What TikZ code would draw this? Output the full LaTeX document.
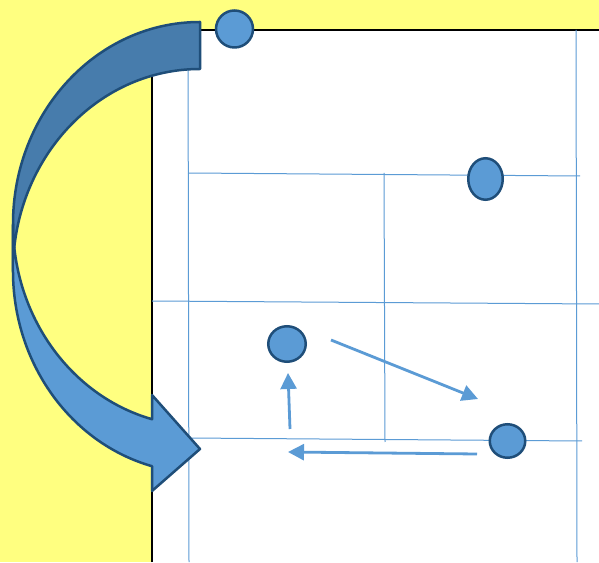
\documentclass[tikz,border=0pt]{standalone}
\usetikzlibrary{arrows.meta,shapes.geometric}
\begin{document}
\begin{tikzpicture}[x=1pt,y=1pt,
        punto/.style={ellipse,draw=borde,fill=azul,line width=2.5pt,inner sep=0pt},
        rejilla/.style={azul,line width=1pt},
        flecha/.style={azul,line width=2.8pt,-{Triangle[length=16pt,width=16pt]}},
        curva/.style={draw=borde,line width=2.5pt,line join=round}]
        %colores
        \definecolor{amarillo}{RGB}{255,255,128}
        \definecolor{azul}{RGB}{91,155,213}
        \definecolor{azulosc}{RGB}{71,124,172}
        \definecolor{borde}{RGB}{31,78,121}

        \useasboundingbox (0,0) rectangle (599,562);
        % Fondo y hoja
        \fill[amarillo] (0,0) rectangle (599,562);
        \fill[white] (152,0) rectangle (599,532);
        \draw[line width=1.2pt] (152,0) -- (152,532) -- (599,532);

        % Rejilla
        \draw[rejilla] (188,532) -- (189,0);
        \draw[rejilla] (576,532) -- (577,0);
        \draw[rejilla] (188,389) -- (580,386);
        \draw[rejilla] (384,389) -- (385,120);
        \draw[rejilla] (152,261) -- (599,258);
        \draw[rejilla] (188,124) -- (582,121);

        % Flecha curva, parte de atras y parte de delante
        \fill[azulosc,curva] (200,540) arc[start angle=90,end angle=180,x radius=187,y radius=202]
            -- (13,291) arc[start angle=180,end angle=90,x radius=187,y radius=202] -- cycle;
        \fill[azul,curva] (13,338) arc[start angle=180,end angle=255.13,x radius=187,y radius=202]
            -- (152,167) -- (200,113) -- (152,71) -- (152,95.8)
            arc[start angle=255.13,end angle=180,x radius=187,y radius=202] -- cycle;

        % Puntos
        \node[punto,minimum width=37pt,minimum height=37pt] (arriba) at (234.5,533) {};
        \node[punto,minimum width=34.5pt,minimum height=41.5pt] (derecha) at (485.5,383) {};
        \node[punto,minimum width=37.5pt,minimum height=35.5pt] (centro) at (287,218) {};
        \node[punto,minimum width=35.5pt,minimum height=33.5pt] (abajo) at (507.5,121) {};

        % Flechas pequenas
        \coordinate (ida) at (331,222);
        \coordinate (llegada) at (478,163);
        \coordinate (vuelta) at (477,108);
        \coordinate (regreso) at (288,110);
        \coordinate (subida) at (290,133);
        \coordinate (cima) at (288,189);
        \draw[flecha] (ida) -- (llegada);
        \draw[flecha] (vuelta) -- (regreso);
        \draw[flecha] (subida) -- (cima);
    \end{tikzpicture}
\end{document}
